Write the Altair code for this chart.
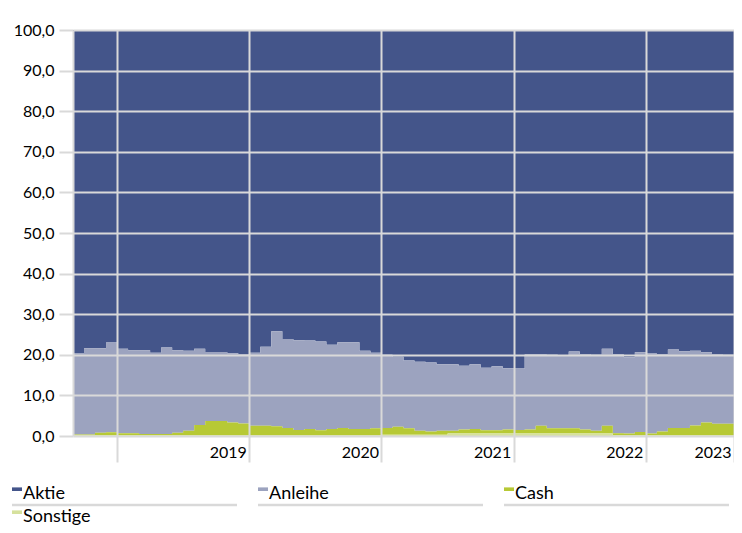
import altair as alt
import pandas as pd

FONT = "Lato"
GRID = "#D9D9D9"

kategorien = ["Aktie", "Anleihe", "Cash", "Sonstige"]
farben = ["#44558A", "#9CA3BF", "#B7C935", "#D6E19D"]

aktie = [79.7, 78.4, 78.4, 77.0, 78.5, 78.9, 78.9, 79.5, 78.2, 78.9,
         79.0, 78.5, 79.3, 79.3, 79.6, 79.8, 79.5, 78.0, 74.2, 76.1,
         76.4, 76.5, 76.7, 77.5, 76.9, 76.9, 79.0, 79.5, 80.0, 80.5,
         81.4, 81.7, 81.9, 82.3, 82.3, 82.7, 82.3, 83.2, 82.8, 83.3,
         83.4, 79.9, 79.9, 80.0, 80.1, 79.2, 79.8, 80.0, 78.5, 79.9,
         80.6, 79.4, 79.7, 79.9, 78.7, 79.1, 79.0, 79.4, 79.8, 80.0]
anleihe = [19.9, 21.2, 20.8, 22.1, 20.8, 20.4, 20.6, 20.0, 21.3, 20.3,
           19.7, 18.8, 17.0, 17.0, 17.1, 17.1, 18.0, 19.5, 23.4, 21.9,
           22.1, 21.8, 21.9, 20.8, 21.1, 21.4, 19.3, 18.6, 18.0, 17.2,
           16.7, 17.0, 17.0, 16.4, 16.4, 15.7, 16.0, 15.4, 15.8, 15.1,
           15.1, 18.5, 17.6, 18.1, 18.0, 18.9, 18.6, 18.7, 19.0, 19.4,
           18.8, 19.6, 19.7, 19.0, 19.3, 18.9, 18.4, 17.3, 17.2, 17.0]
cash = [0.2, 0.2, 0.6, 0.7, 0.5, 0.5, 0.3, 0.3, 0.3, 0.6,
        1.1, 2.5, 3.5, 3.5, 3.1, 2.9, 2.3, 2.3, 2.2, 1.8,
        1.3, 1.5, 1.2, 1.5, 1.8, 1.5, 1.5, 1.7, 1.7, 2.0,
        1.6, 1.0, 0.8, 1.0, 0.7, 1.0, 1.1, 0.8, 0.8, 1.0,
        0.9, 1.0, 1.9, 1.3, 1.3, 1.3, 1.0, 0.7, 1.9, 0.5,
        0.4, 0.8, 0.4, 0.9, 1.8, 1.8, 2.4, 3.1, 2.8, 2.8]
sonstige = [0.2, 0.2, 0.2, 0.2, 0.2, 0.2, 0.2, 0.2, 0.2, 0.2,
            0.2, 0.2, 0.2, 0.2, 0.2, 0.2, 0.2, 0.2, 0.2, 0.2,
            0.2, 0.2, 0.2, 0.2, 0.2, 0.2, 0.2, 0.2, 0.3, 0.3,
            0.3, 0.3, 0.3, 0.3, 0.6, 0.6, 0.6, 0.6, 0.6, 0.6,
            0.6, 0.6, 0.6, 0.6, 0.6, 0.6, 0.6, 0.6, 0.6, 0.2,
            0.2, 0.2, 0.2, 0.2, 0.2, 0.2, 0.2, 0.2, 0.2, 0.2]

jahre = ["2019", "2020", "2021", "2022", "2023"]
jahr_ende = [16, 28, 40, 52, 60]
erster_jahreswechsel = 4
y_ticks = list(range(0, 101, 10))

serien = {"Aktie": aktie, "Anleihe": anleihe, "Cash": cash, "Sonstige": sonstige}
rows = []
for k_i, k in enumerate(kategorien):
    vals = serien[k]
    # step-after needs a closing point at the end of the last month
    for m, v in enumerate(vals + [vals[-1]]):
        rows.append({"monat": m, "kategorie": k, "wert": v, "ord": len(kategorien) - 1 - k_i})
df = pd.DataFrame(rows)

label_expr = "''"
for j, e in zip(reversed(jahre), reversed(jahr_ende)):
    label_expr = f"datum.value == {e} ? '{j}' : ({label_expr})"

color_enc = alt.Color("kategorie:N", scale=alt.Scale(domain=kategorien, range=farben), legend=None)

area = alt.Chart(df).mark_area(interpolate="step-after").encode(
    x=alt.X("monat:Q",
            scale=alt.Scale(domain=[0, 60], nice=False, zero=False),
            axis=alt.Axis(values=[erster_jahreswechsel] + jahr_ende, grid=True, gridColor=GRID,
                          gridWidth=2, ticks=True, tickSize=26, tickColor=GRID, tickWidth=2,
                          domain=False, labelExpr=label_expr, labelAlign="right",
                          labelBaseline="top", labelPadding=-18, labelOffset=-3, labelFlush=False,
                          labelOverlap=False, labelFont=FONT, labelFontSize=16,
                          labelColor="#000000", title=None, zindex=1)),
    y=alt.Y("wert:Q", stack="zero",
            scale=alt.Scale(domain=[0, 100], nice=False),
            axis=alt.Axis(values=y_ticks, labelExpr="replace(format(datum.value, '.1f'), '.', ',')",
                          grid=True, gridColor=GRID, gridWidth=2, tickSize=14, tickColor=GRID,
                          tickWidth=2, domainColor=GRID, domainWidth=2, labelPadding=5,
                          labelFont=FONT, labelFontSize=16, labelColor="#000000",
                          title=None, zindex=1)),
    color=color_enc,
    order=alt.Order("ord:Q"),
)

# legend laid out in a 3-column grid below the plot (pixel offsets from the plot origin)
leg_df = pd.DataFrame({"kategorie": kategorien, "i": list(range(len(kategorien)))})
leg_base = alt.Chart(leg_df).transform_calculate(
    col="datum.i % 3", row="floor(datum.i / 3)"
).transform_calculate(
    px="-61 + datum.col * 246", py="469 + datum.row * 23"
).transform_calculate(
    sx2="datum.px + 10", sy1="datum.py - 11.6", sy2="datum.py - 8",
    tx="datum.px + 11", ux2="datum.px + 225", uy="datum.py + 6"
)

leg_sq = leg_base.mark_rect().encode(
    x=alt.X("px:Q", scale=None), x2="sx2:Q",
    y=alt.Y("sy1:Q", scale=None), y2="sy2:Q",
    color=color_enc,
)
leg_txt = leg_base.mark_text(align="left", baseline="alphabetic", font=FONT, fontSize=18,
                             color="#000000").encode(
    x=alt.X("tx:Q", scale=None), y=alt.Y("py:Q", scale=None), text="kategorie:N"
)
leg_line = leg_base.transform_filter("datum.row == 0").mark_rule(color=GRID, strokeWidth=2.5).encode(
    x=alt.X("px:Q", scale=None), x2="ux2:Q", y=alt.Y("uy:Q", scale=None)
)

chart = alt.layer(area, leg_line, leg_sq, leg_txt).properties(
    width=661, height=406,
    autosize=alt.AutoSizeParams(type="none"),
    padding={"left": 65, "top": 22, "right": 0, "bottom": 89},
).configure_view(stroke=None)

chart.save("out.html", embed_options={"renderer": "svg", "actions": False})
